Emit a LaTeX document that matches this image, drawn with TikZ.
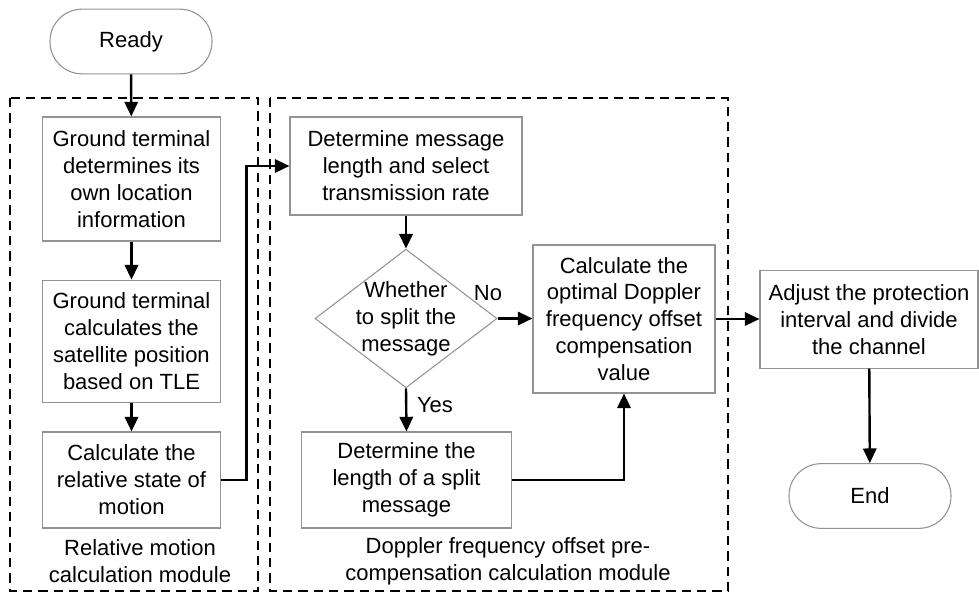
\documentclass[tikz,border=0pt]{standalone}
\usepackage{fontspec}
\setmainfont{Liberation Sans}
\usetikzlibrary{shapes.geometric,arrows.meta}

\tikzset{
  stepbox/.style={draw=gray!85, line width=0.8pt, align=center, inner sep=2pt},
  term/.style={draw=gray!85, line width=0.8pt, rounded corners=24pt,
    minimum width=121.5pt, minimum height=48.5pt},
  decide/.style={draw=gray!85, line width=0.8pt, shape=diamond, inner sep=0pt,
    minimum width=136.5pt, minimum height=104pt},
  flow/.style={-{Triangle[length=11pt,width=10pt]}, line width=1.8pt},
  module/.style={draw, line width=1.2pt, dash pattern=on 7pt off 4.5pt},
}

\begin{document}
\begin{tikzpicture}[x=0.75pt,y=-0.75pt,font=\fontsize{16.5}{20.2}\selectfont]
  \useasboundingbox (0,0) rectangle (979,594);
  % module frames (pixel coordinates, y downwards)
  \draw[module] (10,98) rectangle (258,591);
  \draw[module] (270,98) rectangle (728,591);
  \node[align=center] (relmod) at (140,561) {Relative motion\\calculation module};
  \node[align=center] (dopmod) at (508,561) {Doppler frequency offset pre-\\compensation calculation module};

  % left column
  \node[term] (ready) at (131,41.5) {Ready};
  \node[stepbox, minimum width=134pt, minimum height=93pt] (loc) at (131.5,179)
    {Ground terminal\\determines its\\own location\\information};
  \node[stepbox, minimum width=134pt, minimum height=92pt] (satpos) at (131.5,341.5)
    {Ground terminal\\calculates the\\satellite position\\based on TLE};
  \node[stepbox, minimum width=134pt, minimum height=72pt] (relstate) at (131.5,480)
    {Calculate the\\relative state of\\motion};

  % middle column
  \node[stepbox, minimum width=174pt, minimum height=73.5pt] (msglen) at (406,166)
    {Determine message\\length and select\\transmission rate};
  \node[decide, label={[align=center]center:Whether\\to split the\\message}] (split) at (406,318.5) {};
  \node[stepbox, minimum width=158pt, minimum height=72pt] (splitlen) at (406.5,480)
    {Determine the\\length of a split\\message};
  \node[stepbox, minimum width=136.5pt, minimum height=111pt] (optimal) at (624,319)
    {Calculate the\\optimal Doppler\\frequency offset\\compensation\\value};

  % right column
  \node[stepbox, minimum width=163.5pt, minimum height=73pt] (adjust) at (869,319.5)
    {Adjust the protection\\interval and divide\\the channel};
  \node[term] (end) at (870,496) {End};

  % branch labels
  \node (no) at (488,293) {No};
  \node (yes) at (435,405) {Yes};

  % connectors
  \draw[flow] (ready) -- (loc);
  \draw[flow] (loc) -- (satpos);
  \draw[flow] (satpos) -- (relstate);
  \draw[flow] (relstate.east) -- ++(25,0) |- (msglen.west);
  \draw[flow] (msglen) -- (split);
  \draw[flow] (split.south) -- (splitlen.north);
  \draw[flow] (split.east) -- (optimal.west |- split.east);
  \draw[flow] (splitlen.east) -| (optimal.south);
  \draw[flow] (optimal.east) -- (adjust.west |- optimal.east);
  \draw[flow] (adjust) -- (end);
\end{tikzpicture}
\end{document}
